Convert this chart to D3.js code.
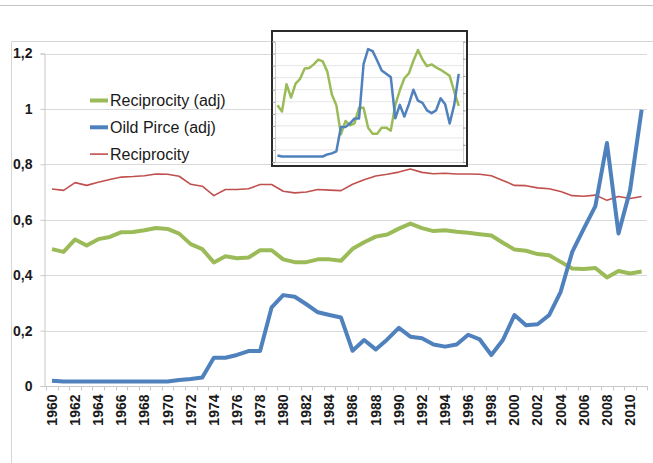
<!DOCTYPE html>
<html>
<head>
<meta charset="utf-8">
<script src="https://cdn.jsdelivr.net/npm/d3@7"></script>
<style>
  html, body { margin: 0; padding: 0; background: #fff; }
  svg { display: block; }
  text { font-family: "Liberation Sans", Arial, sans-serif; fill: #1a1a1a; }
</style>
</head>
<body>
<svg id="chart" width="653" height="463"></svg>
<script>
// ---------- data ----------
const years = [1960,1961,1962,1963,1964,1965,1966,1967,1968,1969,
               1970,1971,1972,1973,1974,1975,1976,1977,1978,1979,
               1980,1981,1982,1983,1984,1985,1986,1987,1988,1989,
               1990,1991,1992,1993,1994,1995,1996,1997,1998,1999,
               2000,2001,2002,2003,2004,2005,2006,2007,2008,2009,
               2010,2011];
const reciprocityAdj = [0.494,0.484,0.529,0.507,0.530,0.538,0.555,0.556,0.562,0.570,
                        0.567,0.550,0.512,0.494,0.446,0.468,0.461,0.464,0.490,0.490,
                        0.457,0.447,0.447,0.457,0.457,0.452,0.495,0.519,0.539,0.547,
                        0.568,0.586,0.570,0.559,0.562,0.557,0.553,0.548,0.543,0.517,
                        0.493,0.488,0.476,0.472,0.448,0.424,0.422,0.426,0.392,0.415,
                        0.406,0.413];
const oilPriceAdj = [0.019,0.016,0.016,0.016,0.016,0.016,0.016,0.016,0.016,0.016,
                     0.016,0.022,0.025,0.031,0.102,0.102,0.112,0.126,0.126,0.284,
                     0.328,0.322,0.295,0.266,0.256,0.247,0.127,0.166,0.132,0.168,
                     0.210,0.178,0.172,0.150,0.142,0.150,0.185,0.168,0.112,0.166,
                     0.256,0.219,0.223,0.256,0.340,0.484,0.568,0.649,0.877,0.550,
                     0.706,0.997];
const reciprocity = [0.711,0.706,0.734,0.724,0.735,0.745,0.754,0.756,0.759,0.765,
                     0.764,0.757,0.728,0.721,0.687,0.709,0.709,0.712,0.727,0.727,
                     0.703,0.697,0.700,0.709,0.707,0.705,0.728,0.744,0.758,0.764,
                     0.772,0.783,0.771,0.766,0.768,0.765,0.765,0.764,0.759,0.742,
                     0.724,0.723,0.715,0.712,0.702,0.687,0.685,0.689,0.670,0.684,
                     0.677,0.684];
const yTicks = [0, 0.2, 0.4, 0.6, 0.8, 1, 1.2];
const yTickLabels = ["0", "0,2", "0,4", "0,6", "0,8", "1", "1,2"];
const xLabelYears = years.filter((d, i) => i % 2 === 0 && d <= 2010);
const seriesNames = ["Reciprocity (adj)", "Oild Pirce (adj)", "Reciprocity"];
// inset: 1960-2000, separate axes
const insetYears = years.slice(0, 41);
const insetLeftTicks = [0.40,0.42,0.44,0.46,0.48,0.50,0.52,0.54,0.56,0.58,0.60];
const insetRightTicks = [0,0.05,0.10,0.15,0.20,0.25,0.30,0.35];

const GREEN = "#9bbb59", BLUE = "#4f81bd", RED = "#c0504d";

const svg = d3.select("#chart");

// page/frame lines
svg.append("line").attr("x1", 0).attr("x2", 653).attr("y1", 5.5).attr("y2", 5.5)
  .attr("stroke", "#c4c4c4").attr("stroke-width", 1);
svg.append("path").attr("d", "M11.5,463 V41.5 H653")
  .attr("fill", "none").attr("stroke", "#d6d6d6").attr("stroke-width", 1);

// ---------- main chart ----------
const x = d3.scaleBand().domain(years).range([46.2, 647.4]);
const y = d3.scaleLinear().domain([0, 1.2]).range([386, 53.5]);
const cx = d => x(d) + x.bandwidth() / 2;

// gridlines
svg.append("g").selectAll("line").data(yTicks.filter(t => t > 0)).join("line")
  .attr("x1", 44).attr("x2", 647)
  .attr("y1", d => Math.round(y(d)) + 0.5).attr("y2", d => Math.round(y(d)) + 0.5)
  .attr("stroke", "#d9d9d9").attr("stroke-width", 1);

// y axis
const yAxis = d3.axisLeft(y).tickValues(yTicks)
  .tickFormat((d, i) => yTickLabels[i]).tickSize(4).tickPadding(8);
const gy = svg.append("g").attr("transform", "translate(44.5,0)").call(yAxis);
gy.select(".domain").attr("stroke", "#c8c8c8");
gy.selectAll(".tick line").attr("stroke", "#c8c8c8");
gy.selectAll(".tick text").style("font-size", "14px").attr("fill", "#1a1a1a")
  .style("font-weight", "bold")
  .style("font-family", "Liberation Sans, Arial, sans-serif");

// x axis (ticks between categories)
const gx = svg.append("g").attr("transform", "translate(0,386.5)");
gx.append("line").attr("x1", 44).attr("x2", 648).attr("stroke", "#c8c8c8");
gx.selectAll("line.tk").data(years.concat([null])).join("line").attr("class", "tk")
  .attr("x1", (d, i) => Math.round(i < years.length ? x(d) : x(years[years.length-1]) + x.bandwidth()) + 0.5)
  .attr("x2", (d, i) => Math.round(i < years.length ? x(d) : x(years[years.length-1]) + x.bandwidth()) + 0.5)
  .attr("y1", 0).attr("y2", 4).attr("stroke", "#c8c8c8");
gx.selectAll("text").data(xLabelYears).join("text")
  .attr("transform", d => `translate(${cx(d)},8) rotate(-90)`)
  .attr("dy", "0.35em").attr("text-anchor", "end")
  .style("font-size", "14px").style("font-weight", "bold").text(d => d);

// lines
const lineGen = vals => d3.line().x((d, i) => cx(years[i])).y(d => y(d))(vals);
svg.append("path").attr("d", lineGen(reciprocity)).attr("fill", "none")
  .attr("stroke", RED).attr("stroke-width", 1.6).attr("stroke-linejoin", "round");
svg.append("path").attr("d", lineGen(reciprocityAdj)).attr("fill", "none")
  .attr("stroke", GREEN).attr("stroke-width", 4).attr("stroke-linejoin", "round");
svg.append("path").attr("d", lineGen(oilPriceAdj)).attr("fill", "none")
  .attr("stroke", BLUE).attr("stroke-width", 4).attr("stroke-linejoin", "round");

// legend
const legend = svg.append("g");
const legendColors = [GREEN, BLUE, RED];
const legendWidths = [4, 4, 1.6];
seriesNames.forEach((name, i) => {
  const ly = 100.5 + i * 26.8;
  legend.append("line").attr("x1", 90).attr("x2", 108).attr("y1", ly).attr("y2", ly)
    .attr("stroke", legendColors[i]).attr("stroke-width", legendWidths[i]);
  legend.append("text").attr("x", 110).attr("y", ly).attr("dy", "0.35em")
    .style("font-size", "16px").text(name);
});

// ---------- inset ----------
const inset = svg.append("g");
inset.append("rect").attr("x", 272).attr("y", 31).attr("width", 195).attr("height", 135)
  .attr("fill", "#fff").attr("stroke", "#2b2b2b").attr("stroke-width", 2);
const ix = d3.scaleBand().domain(insetYears).range([275.2, 461]);
const icx = d => ix(d) + ix.bandwidth() / 2;
const iyL = d3.scaleLinear().domain([0.4, 0.6]).range([162, 41.5]);
const iyR = d3.scaleLinear().domain([0, 0.35]).range([162, 41.5]);

inset.append("g").selectAll("line").data(insetLeftTicks.slice(1)).join("line")
  .attr("x1", 275).attr("x2", 463)
  .attr("y1", d => iyL(d)).attr("y2", d => iyL(d))
  .attr("stroke", "#e0e0e0").attr("stroke-width", 0.8);

const gil = inset.append("g").attr("transform", "translate(275,0)")
  .call(d3.axisLeft(iyL).tickValues(insetLeftTicks).tickSize(2.5).tickFormat(""));
gil.select(".domain").attr("stroke", "#cfcfcf");
gil.selectAll(".tick line").attr("stroke", "#999");
const gir = inset.append("g").attr("transform", "translate(463,0)")
  .call(d3.axisRight(iyR).tickValues(insetRightTicks).tickSize(2.5).tickFormat(""));
gir.select(".domain").attr("stroke", "#cfcfcf");
gir.selectAll(".tick line").attr("stroke", "#999");
inset.append("line").attr("x1", 275).attr("x2", 463).attr("y1", 162.5).attr("y2", 162.5)
  .attr("stroke", "#cfcfcf");

const insetGreen = reciprocityAdj.slice(0, insetYears.length);
const insetBlue = oilPriceAdj.slice(0, insetYears.length);
inset.append("path")
  .attr("d", d3.line().x((d, i) => icx(insetYears[i])).y(d => iyL(d))(insetGreen))
  .attr("fill", "none").attr("stroke", GREEN).attr("stroke-width", 2.5).attr("stroke-linejoin", "round");
inset.append("path")
  .attr("d", d3.line().x((d, i) => icx(insetYears[i])).y(d => iyR(d))(insetBlue))
  .attr("fill", "none").attr("stroke", BLUE).attr("stroke-width", 2.5).attr("stroke-linejoin", "round");
</script>
</body>
</html>
